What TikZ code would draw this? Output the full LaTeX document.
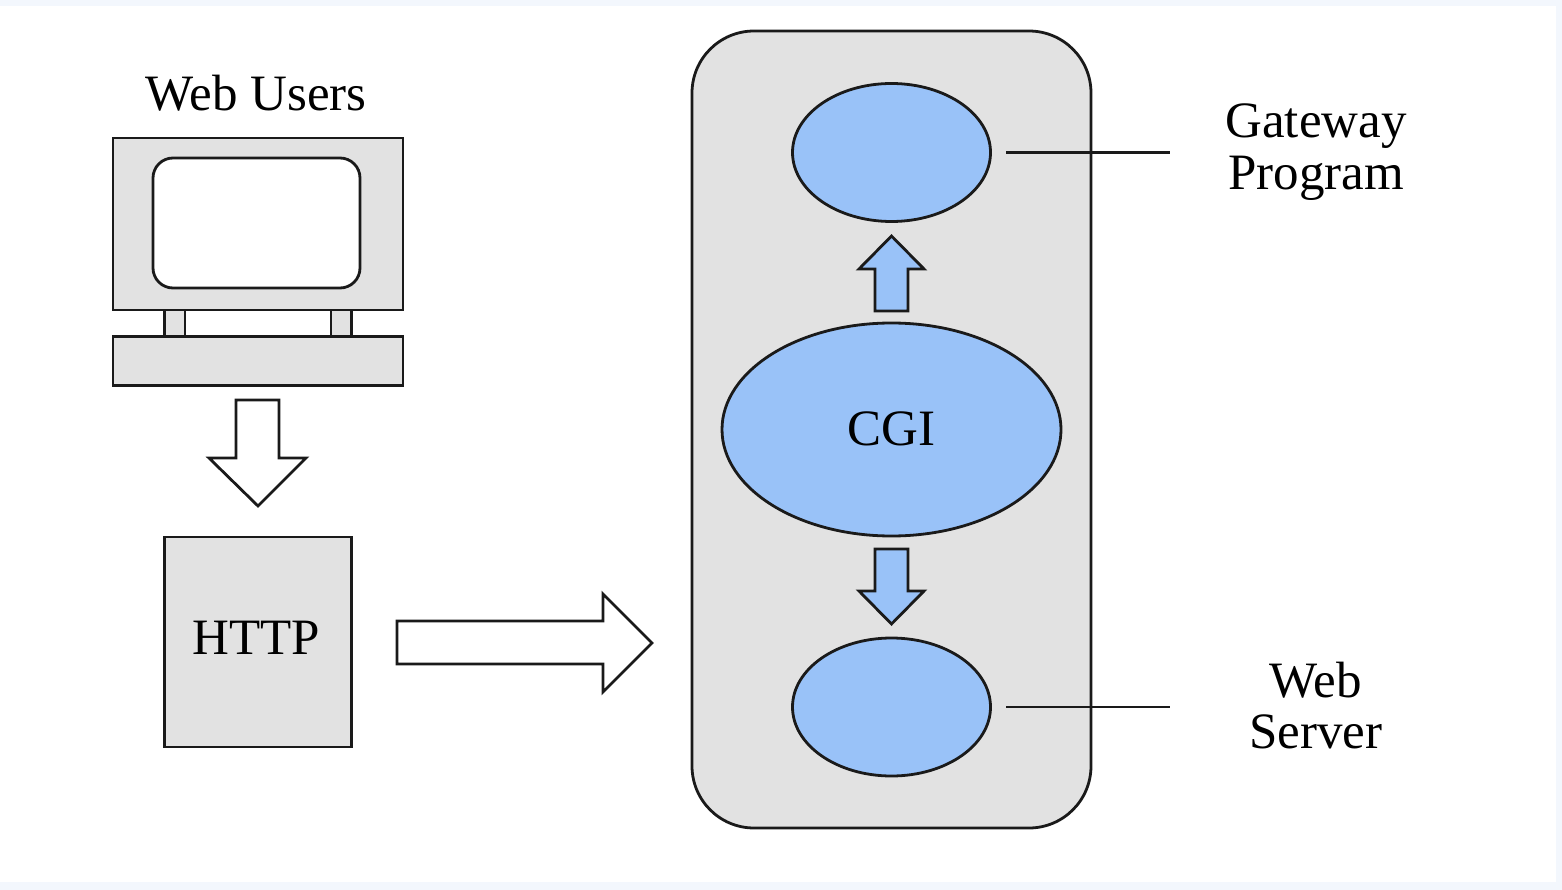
\documentclass[tikz,border=0pt]{standalone}
\usepackage{fontspec}
\setmainfont{Liberation Serif}
\usetikzlibrary{shapes.geometric}
\definecolor{pagebg}{HTML}{F3F7FD}
\definecolor{boxgray}{HTML}{E2E2E2}
\definecolor{ellblue}{HTML}{99C2F8}
\definecolor{ink}{HTML}{1A1A1A}
\tikzset{x=1pt,y=-1pt,
 shp/.style={draw=ink,line width=2.8pt,line join=miter},
 ell/.style={shp,fill=ellblue,ellipse,inner sep=0pt},
 lbl/.style={font=\fontsize{51}{51.5}\selectfont,align=center,text=black,inner sep=0pt},
 lead/.style={draw=ink,line width=2.8pt}}
\begin{document}
\begin{tikzpicture}
\useasboundingbox (0,0) rectangle (1562,890);
\fill[pagebg] (0,0) rectangle (1562,890);
\fill[white] (0,6) rectangle (1556,882);
% computer
\path[shp,fill=boxgray] (164.5,310) rectangle (185,337);
\path[shp,fill=boxgray] (331,310) rectangle (351.5,337);
\node[shp,fill=boxgray,rectangle,inner sep=0pt,minimum width=290pt,minimum height=172pt] (monitor) at (258,224) {};
\node[shp,fill=white,rectangle,rounded corners=20pt,inner sep=0pt,minimum width=207pt,minimum height=130pt] (screen) at (256.5,223) {};
\node[shp,fill=boxgray,rectangle,inner sep=0pt,minimum width=290pt,minimum height=49pt] (base) at (258,361) {};
\node[lbl] (users) at (256,93.5) {Web Users};
% arrows
\path[shp,fill=white] (236,400) -- (279,400) -- (279,458) -- (306,458) -- (258,506) -- (209,458) -- (236,458) -- cycle;
\node[shp,fill=boxgray,rectangle,inner sep=0pt,minimum width=187pt,minimum height=210pt] (http) at (258,642) {};
\node[lbl] at (256.5,637.5) {HTTP};
\path[shp,fill=white] (397,621) -- (603,621) -- (603,594) -- (652,643) -- (603,692) -- (603,664) -- (397,664) -- cycle;
% container
\node[shp,fill=boxgray,rectangle,rounded corners=62pt,inner sep=0pt,minimum width=399pt,minimum height=797pt] (panel) at (891.5,429.5) {};
\node[ell,minimum width=198pt,minimum height=138pt] (gw) at (891.5,152.5) {};
\node[ell,minimum width=339pt,minimum height=213pt] (cgi) at (891.5,429.5) {};
\node[ell,minimum width=198pt,minimum height=138pt] (ws) at (891.5,707) {};
\node[lbl] at (891.5,428.5) {CGI};
\path[shp,fill=ellblue] (875,311) -- (908,311) -- (908,269) -- (924,269) -- (891.5,236) -- (859,269) -- (875,269) -- cycle;
\path[shp,fill=ellblue] (875,549) -- (908,549) -- (908,591) -- (924,591) -- (891.5,624) -- (859,591) -- (875,591) -- cycle;
% leaders
\coordinate (g1) at (1006,152.5); \coordinate (g2) at (1170,152.5);
\coordinate (w1) at (1006,707); \coordinate (w2) at (1170,707);
\draw[lead] (g1) -- (g2);
\draw[lead] (w1) -- (w2);
\node[lbl] (gwl) at (1316,152) {Gateway\\Program};
\node[lbl] (wsl) at (1316,705.5) {Web\\Server};
\end{tikzpicture}
\end{document}
